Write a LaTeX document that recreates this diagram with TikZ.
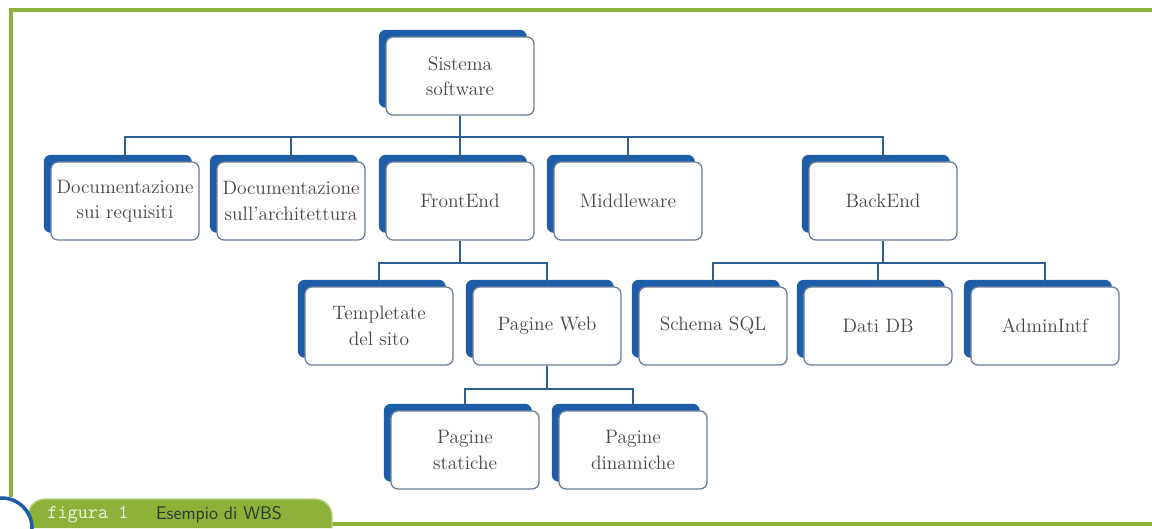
\documentclass[tikz,border=0pt]{standalone}
\usepackage{xcolor}
\definecolor{WBSGreen}{RGB}{141,178,58}
\definecolor{WBSBlue}{RGB}{28,92,168}
\definecolor{WBSLine}{RGB}{45,95,145}
\definecolor{WBSEdge}{RGB}{105,125,148}
\definecolor{WBSText}{RGB}{70,70,70}
\usepackage{tikz}
\usetikzlibrary{shadows,calc}

\begin{document}
\begin{tikzpicture}[x=0.025cm,y=-0.025cm,
  wbsbox/.style={draw=WBSEdge,line width=0.9pt,fill=white,rounded corners=5pt,
    minimum width=3.7cm,minimum height=1.95cm,align=center,text=WBSText,
    inner sep=2pt,font=\fontsize{13.8}{18}\selectfont,
    drop shadow={shadow xshift=-0.18cm,shadow yshift=0.18cm,fill=WBSBlue,opacity=1}},
  link/.style={draw=WBSLine,line width=1.4pt}]
\useasboundingbox (0,0) rectangle (1152,528);
% frame
\draw[WBSGreen,line width=3.2pt] (11,497) -- (11,10) -- (1152,10);
\draw[WBSGreen,line width=2.5pt] (330,524) -- (1152,524);
% boxes
\node[wbsbox] (root) at (460,76) {Sistema\\software};
\foreach \n/\x/\y/\t in {dreq/125/201/{Documentazione\\sui requisiti},
  darch/291/201/{Documentazione\\sull'architettura}, fe/460/201/FrontEnd,
  mw/628/201/Middleware, be/883/201/BackEnd,
  tmpl/379/326/{Templetate\\del sito}, pweb/547/326/{Pagine Web},
  sql/713/326/{Schema SQL}, dati/878/326/{Dati DB}, admin/1045/326/AdminIntf,
  pstat/465/450/{Pagine\\statiche}, pdin/633/450/{Pagine\\dinamiche}}{
  \node[wbsbox] (\n) at (\x,\y) {\t};
}
% links
\foreach \c in {dreq,darch,fe,mw,be}
  \draw[link] (root.south) -- ++(0,21) -| (\c.north);
\foreach \c in {tmpl,pweb}
  \draw[link] (fe.south) -- ++(0,22) -| (\c.north);
\foreach \c in {sql,dati,admin}
  \draw[link] (be.south) -- ++(0,22) -| (\c.north);
\foreach \c in {pstat,pdin}
  \draw[link] (pweb.south) -- ++(0,23) -| (\c.north);
% caption tab
\draw[fill=WBSGreen,draw=WBSGreen!60!white,line width=1pt,rounded corners=12pt]
  (28,528) -- (28,499) -- (332,499) -- (332,528);
\begin{scope}
\clip (0,0) rectangle (1152,528);
\draw[WBSBlue,line width=2.5pt,fill=white] (2,528) circle (30);
\end{scope}
\node[text=WBSGreen!15!white,font=\ttfamily\fontsize{14}{14}\selectfont]
  (fignum) at (88,515) {figura 1};
\node[text=black!80,font=\sffamily\fontsize{13}{13}\selectfont]
  (figtit) at (219,515) {Esempio di WBS};
\end{tikzpicture}
\end{document}
